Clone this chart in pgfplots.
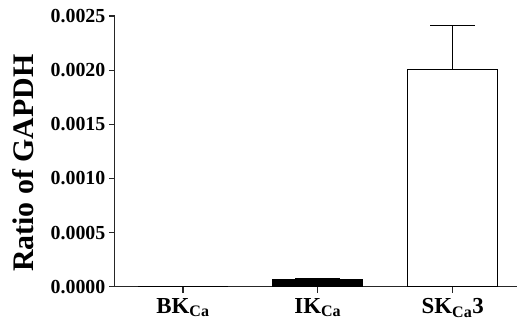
\documentclass[border=0pt]{standalone}
\usepackage{pgfplots}
\pgfplotsset{compat=1.18}
\usepackage{fontspec}
\setmainfont{Liberation Serif}
\begin{document}
\begin{tikzpicture}
\begin{axis}[
  scale only axis,
  width=403bp, height=271bp,
  axis x line=bottom, axis y line=left,
  axis line style={-, line width=1.1bp, black!85},
  xmin=-0.505, xmax=2.48,
  ymin=0, ymax=0.0025,
  xtick={0,1,2},
  xticklabels={BK\textsubscript{Ca}, IK\textsubscript{Ca}, SK\textsubscript{Ca}3},
  ytick={0,0.0005,0.001,0.0015,0.002,0.0025},
  yticklabels={0.0000,0.0005,0.0010,0.0015,0.0020,0.0025},
  scaled y ticks=false,
  tick align=outside,
  major tick length=6bp,
  tick style={line width=1.1bp, black!85},
  /pgf/number format/assume math mode=true,
  x tick label style={font=\fontsize{23}{23}\selectfont\bfseries, yshift=-2bp},
  y tick label style={font=\fontsize{20}{20}\selectfont\bfseries},
  ylabel={Ratio of GAPDH},
  ylabel style={font=\fontsize{30}{30}\selectfont\bfseries, at={(axis description cs:-0.227,0.456)}, anchor=center},
  ybar, bar width=90bp, bar shift=0pt,
  clip=false,
]
\addplot[draw=black, line width=1bp, fill=black, bar shift=0pt,
  error bars/.cd, y dir=plus, y explicit,
  error bar style={line width=1.1bp, black},
  error mark options={rotate=90, mark size=22.5bp, line width=1.1bp, black}]
  coordinates {(0,0) +- (0,0) (1,0.00007) +- (0,0.000008)};
\addplot[draw=black, line width=1bp, fill=white, bar shift=0pt,
  error bars/.cd, y dir=plus, y explicit,
  error bar style={line width=1.1bp, black},
  error mark options={rotate=90, mark size=22.5bp, line width=1.1bp, black}]
  coordinates {(2,0.002005) +- (0,0.000405)};
\end{axis}
\path ([xshift=-115bp,yshift=-42bp]current axis.south west) rectangle ([yshift=16bp]current axis.north east);
\end{tikzpicture}
\end{document}
